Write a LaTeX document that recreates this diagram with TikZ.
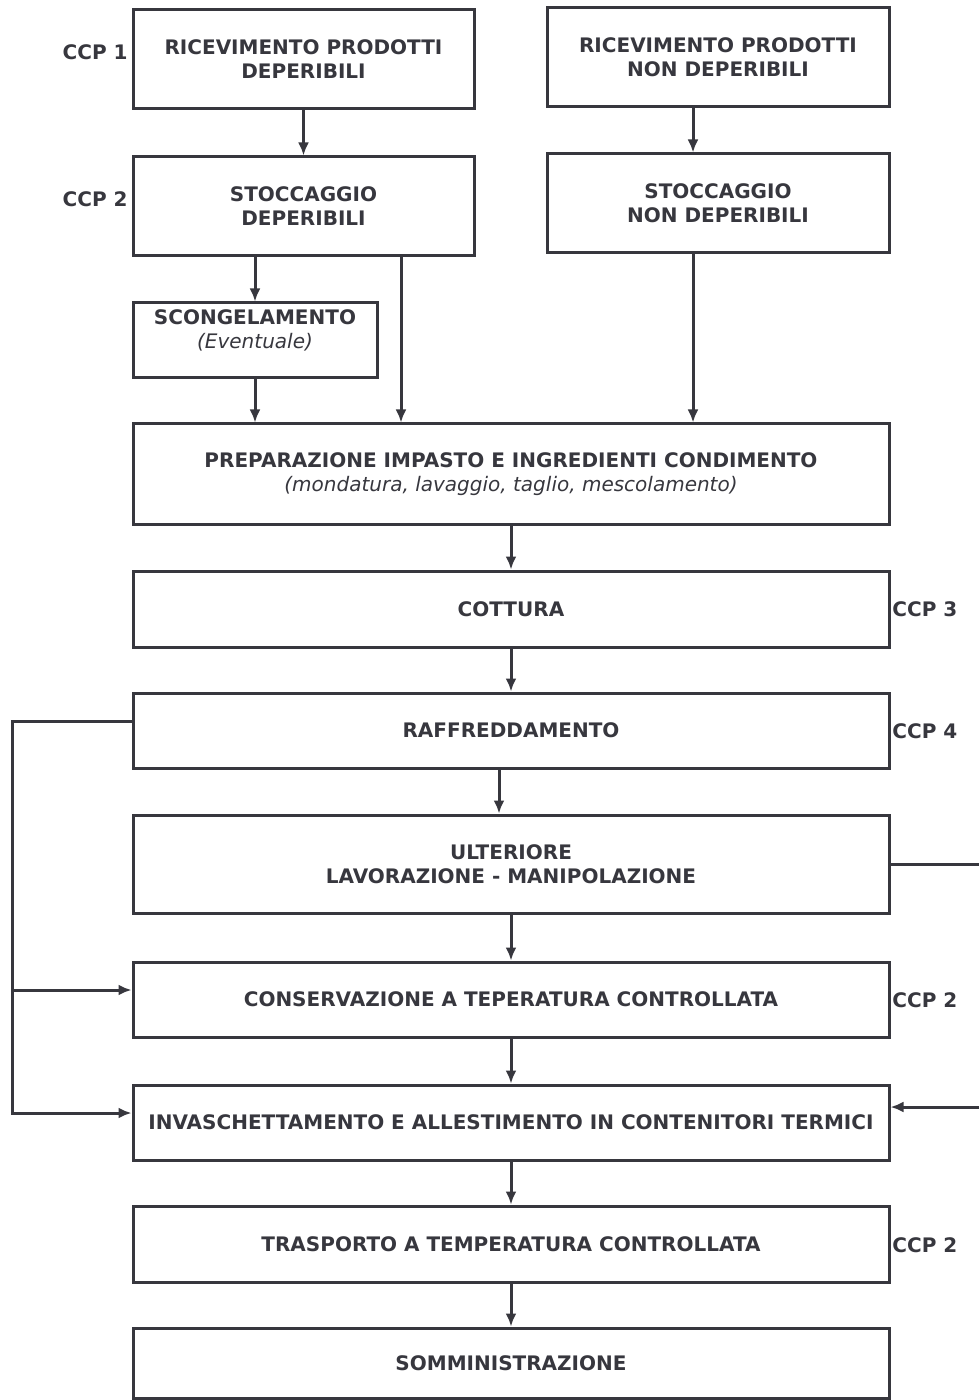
\documentclass[tikz,border=0pt]{standalone}
\usepackage{fontspec}
\setmainfont{DejaVu Sans}
\usetikzlibrary{arrows.meta}
\definecolor{Ink}{RGB}{55,55,62}
\newcommand{\boxfont}{\fontsize{10}{12}\selectfont\bfseries}
\newcommand{\notefont}{\fontsize{10}{12}\selectfont\mdseries\itshape}

\tikzset{
  stepbox/.style={draw=Ink, line width=1.5pt, rectangle, inner sep=0pt, align=center, text=Ink, font=\boxfont},
  flow/.style={draw=Ink, line width=1.5pt, -{Latex[length=6.5pt,width=5.5pt]}},
  link/.style={draw=Ink, line width=1.5pt},
  ccp/.style={text=Ink, font=\boxfont, inner sep=0pt},
}

\begin{document}
\begin{tikzpicture}[x=0.5pt,y=0.5pt,yscale=-1,xscale=1]
		\useasboundingbox (0,0) rectangle (979,1400);

		% Receiving and storage, two columns
		\node[stepbox, minimum width=170.5pt, minimum height=49.5pt] (ricDep) at (303.5,59.5) {RICEVIMENTO PRODOTTI\\DEPERIBILI};
		\node[stepbox, minimum width=171pt, minimum height=49.5pt] (ricNonDep) at (718,57.5) {RICEVIMENTO PRODOTTI\\NON DEPERIBILI};
		\node[stepbox, minimum width=170.5pt, minimum height=49.5pt] (stocDep) at (303.5,206.5) {STOCCAGGIO\\DEPERIBILI};
		\node[stepbox, minimum width=171pt, minimum height=49.5pt] (stocNonDep) at (718,203.5) {STOCCAGGIO\\NON DEPERIBILI};

		% Thawing box, text sits high in it
		\node[stepbox, minimum width=122pt, minimum height=37.5pt] (scong) at (255,340.5) {};
		\node[ccp, align=center] (scongTxt) at ([yshift=-5.25pt]scong.center) {SCONGELAMENTO\\{\notefont(Eventuale)}};

		% Main column
		\node[stepbox, minimum width=378pt, minimum height=50pt] (prep) at (511,474) {PREPARAZIONE IMPASTO E INGREDIENTI CONDIMENTO\\{\notefont(mondatura, lavaggio, taglio, mescolamento)}};
		\node[stepbox, minimum width=378pt, minimum height=38pt] (cott) at (511,609) {COTTURA};
		\node[stepbox, minimum width=378pt, minimum height=37.5pt] (raffr) at (511,730.5) {RAFFREDDAMENTO};
		\node[stepbox, minimum width=378pt, minimum height=49pt] (ulter) at (511,864) {ULTERIORE\\LAVORAZIONE - MANIPOLAZIONE};
		\node[stepbox, minimum width=378pt, minimum height=37.5pt] (conserv) at (511,999.5) {CONSERVAZIONE A TEPERATURA CONTROLLATA};
		\node[stepbox, minimum width=378pt, minimum height=37.5pt] (invas) at (511,1122.5) {INVASCHETTAMENTO E ALLESTIMENTO IN CONTENITORI TERMICI};
		\node[stepbox, minimum width=378pt, minimum height=38pt] (trasp) at (511,1244) {TRASPORTO A TEMPERATURA CONTROLLATA};
		\node[stepbox, minimum width=378pt, minimum height=35pt] (somm) at (511,1363) {SOMMINISTRAZIONE};

		% CCP labels
		\node[ccp, anchor=east] (ccpA) at (128,52) {CCP 1};
		\node[ccp, anchor=east] (ccpB) at (128,199) {CCP 2};
		\node[ccp, anchor=west] (ccpC) at (892,609) {CCP 3};
		\node[ccp, anchor=west] (ccpD) at (892,731) {CCP 4};
		\node[ccp, anchor=west] (ccpE) at (892,1000) {CCP 2};
		\node[ccp, anchor=west] (ccpF) at (892,1245) {CCP 2};

		% Arrows in the top part
		\draw[flow] (ricDep.south) -- (stocDep.north);
		\draw[flow] ([xshift=-12.5pt]ricNonDep.south) -- ([xshift=-12.5pt]stocNonDep.north);
		\draw[flow] (scong.north |- stocDep.south) -- (scong.north);
		\draw[flow] (scong.south) -- (scong.south |- prep.north);
		\draw[flow] ([xshift=48.75pt]stocDep.south) -- ([xshift=48.75pt]stocDep.south |- prep.north);
		\draw[flow] ([xshift=-12.5pt]stocNonDep.south) -- ([xshift=-12.5pt]stocNonDep.south |- prep.north);

		% Arrows down the main column
		\draw[flow] (prep.south) -- (cott.north);
		\draw[flow] (cott.south) -- (raffr.north);
		\draw[flow] ([xshift=-6pt]raffr.south) -- ([xshift=-6pt]ulter.north);
		\draw[flow] (ulter.south) -- (conserv.north);
		\draw[flow] (conserv.south) -- (invas.north);
		\draw[flow] (invas.south) -- (trasp.north);
		\draw[flow] (trasp.south) -- (somm.north);

		% Left bypass from cooling
		\coordinate (leftRail) at (12,0);
		\draw[flow] ([yshift=-4.75pt]raffr.west) -- ([yshift=-4.75pt]raffr.west -| leftRail) |- ([yshift=-4.75pt]invas.west);
		\draw[flow] ([yshift=-4.75pt]conserv.west -| leftRail) -- ([yshift=-4.75pt]conserv.west);

		% Right bypass, running off the page edge
		\coordinate (rightEdge) at (979,0);
		\draw[link] (ulter.east) -- (ulter.east -| rightEdge);
		\draw[flow] ([yshift=-7.75pt]invas.east -| rightEdge) -- ([yshift=-7.75pt]invas.east);
	\end{tikzpicture}
\end{document}
